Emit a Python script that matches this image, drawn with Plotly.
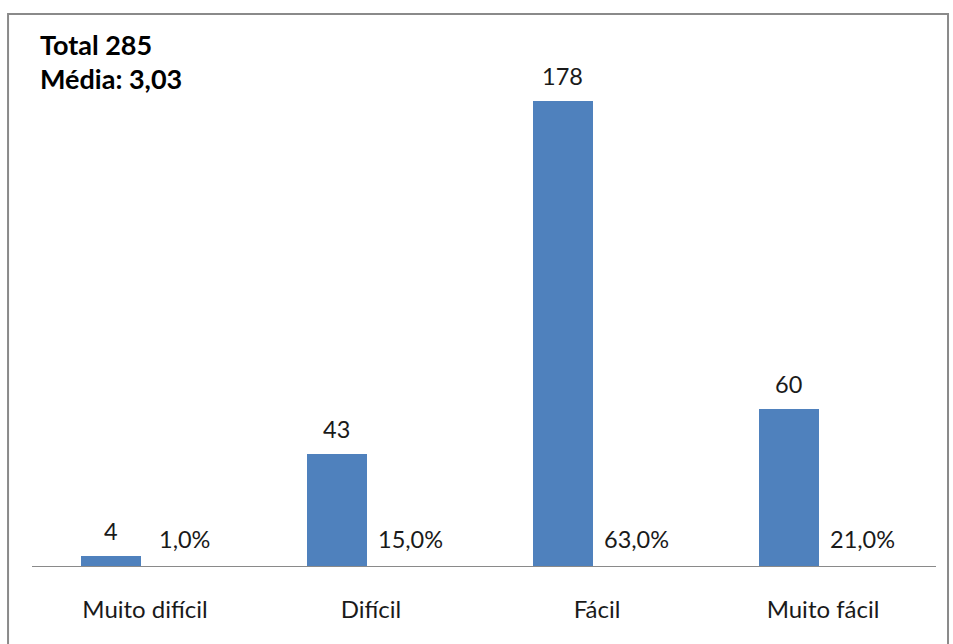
import plotly.graph_objects as go

categories = ["Muito difícil", "Difícil", "Fácil", "Muito fácil"]
counts = [4, 43, 178, 60]
percent_labels = ["1,0%", "15,0%", "63,0%", "21,0%"]
title_lines = ["Total 285", "Média: 3,03"]

BAR_COLOR = "#4F81BD"
FONT = "Lato, Carlito, 'Liberation Sans', sans-serif"
idx = list(range(len(categories)))
bar_x = [i - 0.151 for i in idx]
pct_x = [i + 0.175 for i in idx]

fig = go.Figure()
fig.add_trace(go.Bar(
    x=bar_x, y=counts, width=0.265, marker=dict(color=BAR_COLOR, line=dict(width=0)),
    hoverinfo="skip", showlegend=False,
))

for x, v in zip(bar_x, counts):
    fig.add_annotation(x=x, y=v, text=str(v), showarrow=False, yanchor="bottom",
                       yshift=9, font=dict(family=FONT, size=23.5, color="#1a1a1a"))
for x, t in zip(pct_x, percent_labels):
    fig.add_annotation(x=x, y=0, text=t, showarrow=False, yanchor="bottom",
                       yshift=11, font=dict(family=FONT, size=23.5, color="#1a1a1a"))

fig.add_annotation(xref="paper", yref="paper", x=0.0068, y=1.0, xanchor="left", yanchor="middle",
                   yshift=-14, text="<b>" + title_lines[0] + "</b>", showarrow=False,
                   font=dict(family=FONT, size=27, color="#000000"))
fig.add_annotation(xref="paper", yref="paper", x=0.0068, y=1.0, xanchor="left", yanchor="middle",
                   yshift=-48, text="<b>" + title_lines[1] + "</b>", showarrow=False,
                   font=dict(family=FONT, size=27, color="#000000"))

# outer chart border
fig.add_shape(type="rect", xref="paper", yref="paper", x0=-0.0265, x1=1.0133, y0=-0.3, y1=1.03,
              line=dict(color="#8a8a8a", width=2), fillcolor="rgba(0,0,0,0)", layer="below")

fig.update_layout(
    width=953, height=644,
    margin=dict(l=32, r=17, t=30, b=78),
    paper_bgcolor="white", plot_bgcolor="white",
    font=dict(family=FONT, size=24, color="#1a1a1a"),
    xaxis=dict(range=[-0.5, 3.5], tickmode="array", tickvals=idx, ticktext=categories,
               showgrid=False, zeroline=False, showline=True, linecolor="#8a8a8a", linewidth=1,
               ticks="", ticklabelstandoff=22, tickfont=dict(family=FONT, size=24, color="#1a1a1a")),
    yaxis=dict(range=[0, 205], visible=False, showgrid=False, zeroline=False),
    bargap=0,
)

fig.write_html("out.html")
